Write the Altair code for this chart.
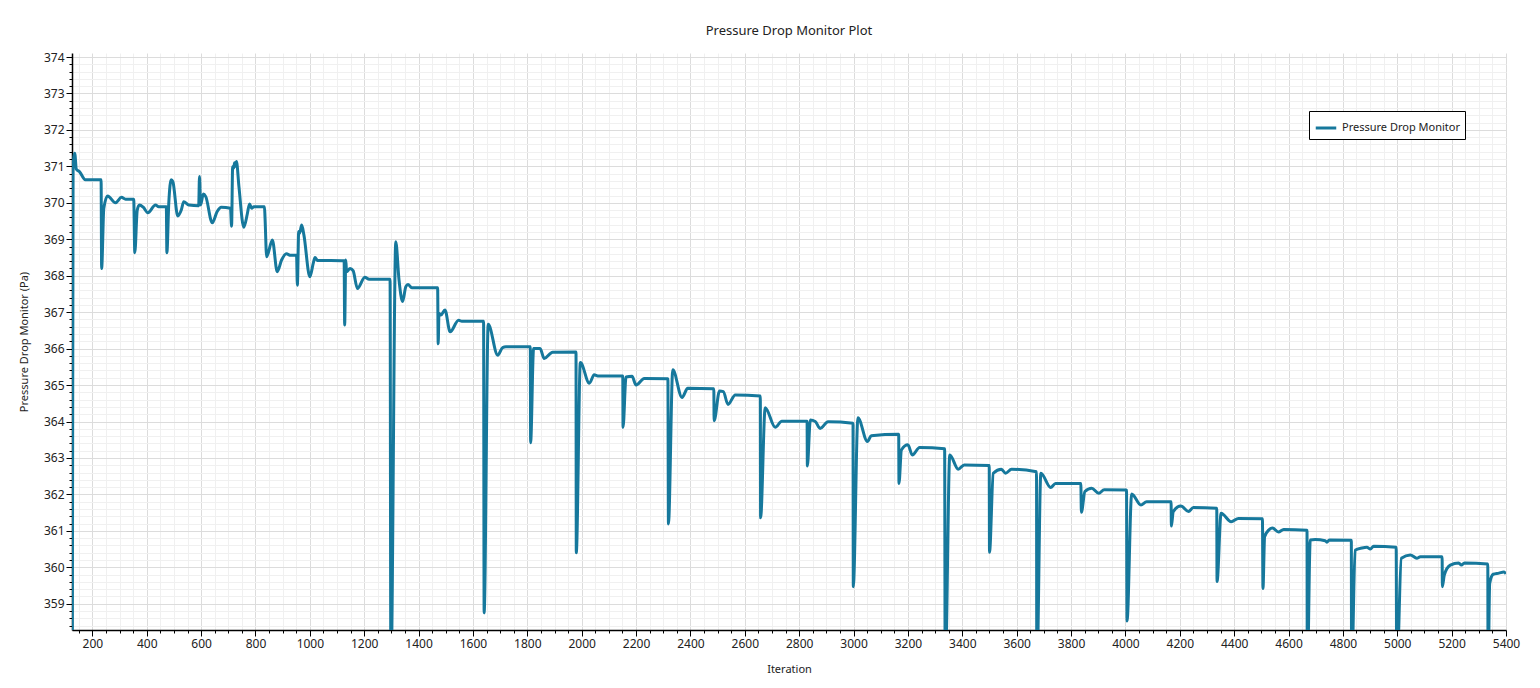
import altair as alt
import pandas as pd

# ---- data ----
iterations = [
    126, 129, 135, 141, 153, 174, 232, 234, 242, 256, 285, 307, 322, 352, 356, 365, 373, 387, 404, 432,
    444, 472, 474, 481, 490, 496, 514, 527, 536, 555, 591, 594, 598, 608, 617, 641, 659, 674, 708, 712,
    716, 720, 723, 727, 730, 739, 757, 770, 778, 786, 794, 833, 835, 841, 862, 880, 896, 914, 929, 951,
    954, 959, 962, 970, 978, 1000, 1013, 1019, 1028, 1126, 1128, 1132, 1135, 1148, 1159, 1175, 1202, 1218, 1295, 1298,
    1316, 1328, 1341, 1353, 1361, 1375, 1470, 1472, 1475, 1482, 1497, 1516, 1547, 1559, 1639, 1641, 1656, 1691, 1709, 1721,
    1811, 1812, 1823, 1847, 1862, 1893, 1979, 1980, 1995, 2028, 2046, 2059, 2151, 2152, 2163, 2185, 2200, 2230, 2317, 2319,
    2335, 2369, 2390, 2486, 2487, 2507, 2521, 2538, 2565, 2657, 2658, 2675, 2712, 2736, 2829, 2830, 2841, 2859, 2877, 2906,
    2998, 2999, 3016, 3051, 3065, 3166, 3167, 3176, 3200, 3216, 3243, 3335, 3337, 3354, 3385, 3407, 3499, 3500, 3514, 3544,
    3559, 3581, 3673, 3674, 3689, 3725, 3743, 3836, 3838, 3851, 3876, 3902, 3922, 4004, 4006, 4023, 4057, 4078, 4168, 4169,
    4176, 4204, 4232, 4250, 4336, 4337, 4352, 4389, 4416, 4504, 4506, 4512, 4527, 4541, 4563, 4582, 4668, 4669, 4680, 4698,
    4735, 4741, 4750, 4831, 4832, 4845, 4870, 4888, 4901, 4913, 4996, 4998, 5015, 5048, 5072, 5085, 5165, 5166, 5173, 5195,
    5226, 5236, 5247, 5333, 5334, 5340, 5353, 5374, 5392, 5400,
]
pressure = [
    357.0, 370.99, 371.36, 370.92, 370.85, 370.63, 370.63, 368.20, 369.85, 370.19, 370.00, 370.15, 370.10, 370.10, 368.63, 369.80, 369.94, 369.88, 369.73, 369.94,
    369.89, 369.89, 368.63, 369.99, 370.63, 370.58, 369.64, 369.80, 370.03, 369.94, 369.92, 370.72, 369.94, 370.24, 370.17, 369.45, 369.76, 369.88, 369.85, 369.36,
    370.99, 370.95, 371.10, 371.00, 371.13, 370.45, 369.33, 369.70, 369.97, 369.85, 369.89, 369.89, 369.60, 368.52, 368.98, 368.11, 368.43, 368.60, 368.56, 368.56,
    367.74, 369.21, 369.16, 369.39, 369.12, 367.97, 368.36, 368.50, 368.42, 368.41, 366.65, 368.43, 368.11, 368.20, 368.14, 367.65, 367.96, 367.90, 367.90, 357.0,
    368.93, 367.88, 367.29, 367.70, 367.76, 367.67, 367.67, 366.13, 366.97, 366.92, 367.06, 366.46, 366.78, 366.75, 366.75, 358.75, 366.67, 365.82, 366.03, 366.05,
    366.05, 363.42, 366.00, 366.00, 365.73, 365.90, 365.91, 360.40, 365.62, 365.05, 365.28, 365.25, 365.25, 363.84, 365.22, 365.24, 365.00, 365.18, 365.17, 361.19,
    365.42, 364.66, 364.91, 364.90, 364.02, 364.84, 364.82, 364.47, 364.73, 364.70, 361.36, 364.38, 363.84, 364.01, 364.01, 362.78, 364.04, 364.00, 363.81, 363.99,
    363.95, 359.47, 364.10, 363.45, 363.61, 363.65, 362.30, 363.22, 363.36, 363.08, 363.29, 363.25, 357.0, 363.08, 362.69, 362.81, 362.79, 360.41, 362.58, 362.69,
    362.58, 362.69, 362.62, 357.0, 362.58, 362.19, 362.30, 362.30, 361.51, 362.08, 362.17, 362.03, 362.13, 362.12, 358.53, 362.01, 361.71, 361.80, 361.80, 361.13,
    361.53, 361.68, 361.53, 361.64, 361.62, 359.61, 361.48, 361.25, 361.34, 361.33, 359.42, 360.84, 361.02, 361.08, 360.97, 361.04, 361.02, 357.0, 360.75, 360.76,
    360.73, 360.69, 360.75, 360.74, 357.0, 360.47, 360.53, 360.55, 360.50, 360.58, 360.55, 357.0, 360.25, 360.34, 360.25, 360.29, 360.29, 359.47, 359.79, 360.06,
    360.12, 360.06, 360.12, 360.09, 357.0, 359.56, 359.81, 359.84, 359.87, 359.82,
]
series_name = "Pressure Drop Monitor"
x_ticks = list(range(150, 5401, 50))
y_ticks = [round(358.4 + 0.2 * i, 1) for i in range(79)]

df = pd.DataFrame({"Iteration": iterations, "Pressure": pressure, "Series": series_name})

FONT = "Noto Sans"
LINE_COLOR = "#16789c"
major_x = "datum.value % 200 === 0"
major_y = "abs(datum.value - round(datum.value)) < 0.01"

x_axis = alt.Axis(
    values=x_ticks,
    title="Iteration",
    labelExpr=f"{major_x} ? format(datum.value, 'd') : ''",
    labelOverlap=False,
    labelFlush=False,
    labelBound=False,
    labelFont=FONT,
    labelFontSize=12,
    labelColor="#222222",
    labelPadding=2,
    titleFont=FONT,
    titleFontSize=11,
    titleFontWeight="normal",
    titleColor="#222222",
    titlePadding=14,
    grid=True,
    gridColor={"condition": {"test": major_x, "value": "#dcdcdc"}, "value": "#f0f0f0"},
    gridWidth=1,
    tickSize={"condition": {"test": major_x, "value": 6}, "value": 3},
    tickColor="#000000",
    domainColor="#000000",
    domainWidth=1.5,
)
y_axis = alt.Axis(
    values=y_ticks,
    title="Pressure Drop Monitor (Pa)",
    labelExpr=f"{major_y} ? format(datum.value, 'd') : ''",
    labelOverlap=False,
    labelFlush=False,
    labelBound=False,
    labelFont=FONT,
    labelFontSize=12,
    labelColor="#222222",
    labelPadding=2,
    titleFont=FONT,
    titleFontSize=11,
    titleFontWeight="normal",
    titleColor="#222222",
    titlePadding=14,
    grid=True,
    gridColor={"condition": {"test": major_y, "value": "#dcdcdc"}, "value": "#f0f0f0"},
    gridWidth=1,
    tickSize={"condition": {"test": major_y, "value": 6}, "value": 3},
    tickColor="#000000",
    domainColor="#000000",
    domainWidth=1.5,
)

chart = (
    alt.Chart(df)
    .mark_line(strokeWidth=3, clip=True, interpolate="monotone")
    .encode(
        x=alt.X("Iteration:Q", scale=alt.Scale(domain=[125, 5400], nice=False, zero=False), axis=x_axis),
        y=alt.Y("Pressure:Q", scale=alt.Scale(domain=[358.28, 374.11], nice=False, zero=False), axis=y_axis),
        color=alt.Color(
            "Series:N",
            scale=alt.Scale(range=[LINE_COLOR]),
            legend=alt.Legend(
                title=None,
                orient="none",
                legendX=1237,
                legendY=58,
                strokeColor="#000000",
                fillColor="#ffffff",
                padding=5,
                symbolType="stroke",
                symbolSize=420,
                symbolStrokeWidth=3,
                labelFont=FONT,
                labelFontSize=11,
                labelColor="#222222",
                cornerRadius=0,
            ),
        ),
        order=alt.Order("Iteration:Q"),
    )
    .properties(
        width=1434,
        height=577,
        title=alt.TitleParams(
            "Pressure Drop Monitor Plot",
            font=FONT,
            fontSize=13,
            fontWeight="normal",
            color="#222222",
            anchor="middle",
            offset=13,
        ),
        autosize=alt.AutoSizeParams(type="none"),
        padding={"left": 72, "top": 53, "right": 34, "bottom": 58},
    )
    .configure_view(strokeWidth=0)
)

chart.save("out.html", embed_options={"renderer": "svg", "actions": False})
